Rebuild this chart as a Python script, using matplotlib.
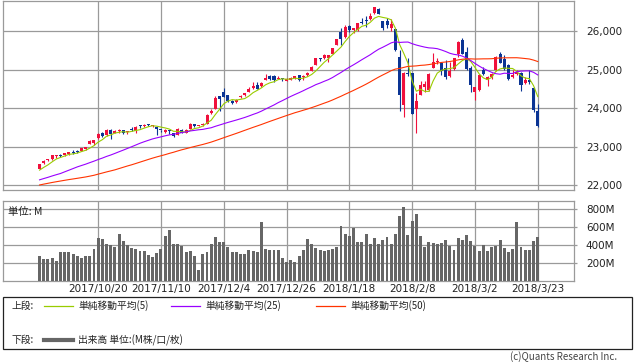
import numpy as np
import pandas as pd
import matplotlib
matplotlib.use("Agg")
import matplotlib.pyplot as plt
from matplotlib.lines import Line2D
from matplotlib.patches import Rectangle
from matplotlib.ticker import FuncFormatter

# ---- data (2017/10/2 - 2018/3/23, daily) ----
# closes before the first bar, only used for the moving averages
prior_closes = [
    21513, 21613, 21711, 21797, 21830, 21891,
    21964, 22016, 22026, 22093, 22118, 22085, 22049, 21844, 21858, 21994,
    21999, 22025, 21751, 21675, 21704, 21900, 21812, 21783, 21814, 21808,
    21865, 21892, 21948,
    21988, 21753, 21808, 21785, 21798, 22057, 22119, 22158, 22203, 22268,
    22331, 22371, 22413, 22359, 22350, 22296, 22284, 22341, 22381, 22405,
]

opens = [
    22423, 22566, 22646, 22681, 22758, 22777, 22786, 22822, 22867, 22887,
    22890, 22940, 23074, 23095, 23220, 23363, 23305, 23427, 23365, 23420,
    23426, 23372, 23456, 23415, 23564, 23532, 23585, 23549, 23516, 23434,
    23385, 23416, 23358, 23312, 23431, 23362, 23461, 23601, 23538, 23566,
    23581, 23867, 23980, 24305, 24424, 24335, 24184, 24150, 24283, 24339,
    24413, 24515, 24609, 24563, 24739, 24848, 24826, 24757, 24765, 24715,
    24735, 24796, 24849, 24809, 24850, 24964, 25114, 25308, 25312, 25311,
    25406, 25638, 25987, 25855, 26133, 26038, 26025, 26240, 26290, 26314,
    26466, 26583, 26250, 26268, 26083, 26061, 25337, 24085, 24900, 24902,
    23992, 24337, 24540, 24460, 25030, 25190, 25165, 25050, 24830, 25012,
    25400, 25770, 25470, 25030, 24420, 24470, 24990, 24740, 24800, 24990,
    25410, 25270, 25110, 24800, 24880, 24920, 24660, 24730, 24520, 23940,
]
highs = [
    22565, 22651, 22685, 22777, 22779, 22803, 22838, 22873, 22905, 22905,
    22958, 23002, 23182, 23167, 23367, 23388, 23471, 23455, 23432, 23450,
    23432, 23416, 23518, 23531, 23564, 23582, 23602, 23564, 23516, 23444,
    23459, 23443, 23358, 23487, 23450, 23454, 23605, 23601, 23573, 23625,
    23849, 23983, 24327, 24322, 24534, 24349, 24206, 24246, 24345, 24387,
    24552, 24671, 24668, 24690, 24876, 24850, 24850, 24847, 24785, 24778,
    24813, 24840, 24871, 24864, 24941, 25105, 25299, 25311, 25407, 25375,
    25574, 25803, 26086, 26153, 26153, 26072, 26215, 26338, 26392, 26458,
    26616, 26608, 26256, 26338, 26306, 26061, 25520, 24946, 25293, 24903,
    24382, 24698, 24705, 24924, 25420, 25300, 25190, 25255, 25200, 25310,
    25740, 25820, 25600, 25100, 24560, 24900, 25070, 24830, 24920, 25350,
    25450, 25370, 25140, 25000, 25000, 24940, 24810, 24985, 24540, 24100,
]
lows = [
    22416, 22555, 22618, 22660, 22713, 22736, 22752, 22797, 22821, 22850,
    22882, 22926, 23067, 23039, 23210, 23262, 23291, 23191, 23356, 23366,
    23331, 23343, 23413, 23357, 23481, 23520, 23526, 23508, 23300, 23381,
    23350, 23330, 23242, 23312, 23356, 23362, 23461, 23517, 23526, 23536,
    23578, 23841, 23980, 23921, 24288, 24159, 24111, 24141, 24270, 24307,
    24413, 24501, 24508, 24554, 24739, 24731, 24690, 24757, 24715, 24705,
    24732, 24751, 24717, 24741, 24825, 24963, 25112, 25235, 25271, 25200,
    25406, 25638, 25648, 25830, 25972, 25958, 26004, 26197, 26112, 26278,
    26435, 26435, 26032, 26082, 26014, 25490, 23923, 23778, 24848, 23849,
    23360, 24337, 24421, 24458, 25030, 25149, 24872, 24768, 24800, 24980,
    25330, 25407, 24999, 24430, 24200, 24440, 24850, 24570, 24760, 24960,
    25160, 24990, 24740, 24780, 24860, 24450, 24640, 24640, 23900, 23510,
]
closes = [
    22557, 22641, 22661, 22775, 22773, 22761, 22830, 22872, 22841, 22871,
    22956, 22997, 23157, 23163, 23328, 23273, 23441, 23329, 23400, 23434,
    23348, 23377, 23435, 23516, 23539, 23548, 23557, 23563, 23461, 23422,
    23439, 23409, 23271, 23458, 23358, 23430, 23590, 23526, 23557, 23580,
    23836, 23940, 24272, 24231, 24290, 24180, 24140, 24211, 24329, 24386,
    24504, 24585, 24508, 24651, 24792, 24754, 24726, 24782, 24754, 24746,
    24774, 24837, 24719, 24824, 24922, 25075, 25295, 25283, 25385, 25369,
    25574, 25803, 25792, 26115, 26017, 26071, 26214, 26210, 26252, 26392,
    26616, 26439, 26076, 26149, 26186, 25520, 24345, 24912, 24893, 23860,
    24190, 24601, 24640, 24893, 25200, 25219, 24964, 24797, 24962, 25309,
    25709, 25410, 25029, 24608, 24538, 24874, 24884, 24801, 24895, 25335,
    25178, 25007, 24758, 24873, 24946, 24610, 24727, 24682, 23957, 23533,
]
# volume, million shares
volumes = [
    282, 248, 248, 260, 226, 319, 326, 326, 304, 274,
    260, 282, 282, 356, 479, 468, 412, 404, 382, 527,
    449, 397, 367, 356, 330, 338, 293, 271, 312, 356,
    505, 572, 416, 416, 393, 326, 338, 282, 126, 304,
    326, 416, 490, 430, 438, 382, 326, 326, 304, 304,
    349, 338, 326, 653, 360, 349, 349, 349, 260, 215,
    234, 215, 282, 349, 471, 416, 371, 349, 338, 349,
    360, 382, 616, 527, 505, 594, 438, 438, 527, 416,
    483, 416, 460, 494, 416, 527, 728, 828, 516, 672,
    750, 505, 382, 438, 427, 416, 427, 460, 393, 349,
    483, 460, 516, 449, 393, 338, 404, 338, 382, 393,
    460, 371, 327, 360, 661, 382, 349, 349, 449, 494,
]
grid_idx = [14, 29, 44, 59, 74, 89, 104, 119]
grid_dates = ['2017/10/20', '2017/11/10', '2017/12/4', '2017/12/26',
              '2018/1/18', '2018/2/8', '2018/3/2', '2018/3/23']
price_ticks = [22000, 23000, 24000, 25000, 26000]
vol_ticks = [200, 400, 600, 800]

RED = '#f0103c'
BLUE = '#0a3494'
GRID = '#9a9a9a'
JP = ['Noto Sans CJK JP', 'DejaVu Sans']

W, H = 638, 362


def fx(x):
    return x / W


def fy(y):
    return 1 - y / H


n = len(closes)
xs = np.arange(n)
all_closes = pd.Series(prior_closes + closes, dtype=float)
ma = {k: all_closes.rolling(k).mean().iloc[-n:].values for k in (5, 25, 50)}

fig = plt.figure(figsize=(W / 100, H / 100), dpi=100)
fig.patch.set_facecolor('white')

ax = fig.add_axes([fx(3), fy(190), fx(571), 189.5 / H])
axv = fig.add_axes([fx(3), fy(281), fx(571), 80 / H])

for a in (ax, axv):
    a.set_xlim(-8.73, 127.66)
    for s in a.spines.values():
        s.set_color(GRID)
        s.set_linewidth(0.9)
    a.set_xticks(grid_idx)
    a.grid(True, axis='both', color=GRID, linewidth=0.9)
    a.set_axisbelow(True)
    a.yaxis.tick_right()
    a.tick_params(axis='y', direction='out', length=2.5, width=0.9, color=GRID,
                  pad=6, labelsize=7.5, labelcolor='#222222')
    a.tick_params(axis='x', length=0)

# candles
for i in xs:
    o, h, l, c = opens[i], highs[i], lows[i], closes[i]
    col = RED if c >= o else BLUE
    ax.vlines(i, l, h, color=col, linewidth=0.8, zorder=3)
    body = max(abs(c - o), 26)
    ax.bar(i, body, bottom=min(o, c), width=0.72, color=col, linewidth=0, zorder=4)

ax.plot(xs, ma[5], color='#99cc00', linewidth=0.8, zorder=5)
ax.plot(xs, ma[25], color='#9900ff', linewidth=0.8, zorder=5)
ax.plot(xs, ma[50], color='#ff3300', linewidth=0.8, zorder=5)

ax.set_ylim(21878, 26794)
ax.set_yticks(price_ticks)
ax.yaxis.set_major_formatter(FuncFormatter(lambda v, p: f'{v:,.0f}'))
ax.set_xticklabels([])

# volume
axv.bar(xs, volumes, width=0.7, color='#666666', linewidth=0, zorder=3)
axv.set_ylim(0, 890)
axv.set_yticks(vol_ticks)
axv.set_yticklabels([f'{v}M' for v in vol_ticks])
axv.set_xticklabels(grid_dates, fontsize=7.5, color='#222222')
axv.tick_params(axis='x', pad=2)
axv.text(0.008, 0.93, '単位: M', transform=axv.transAxes, fontsize=7.5,
         family=JP, va='top', ha='left', color='#222222')

# legend box
fig.add_artist(Rectangle((fx(3), fy(349)), fx(629), 52 / H, transform=fig.transFigure,
                         fill=False, edgecolor='#222222', linewidth=0.9))
row1, row2 = 306, 340
fig.text(fx(11), fy(row1), '上段:', fontsize=7, family=JP, va='center', color='#222222')
fig.text(fx(11), fy(row2), '下段:', fontsize=7, family=JP, va='center', color='#222222')
for x0, col, label in [(44, '#99cc00', '単純移動平均(5)'),
                       (171, '#9900ff', '単純移動平均(25)'),
                       (316, '#ff3300', '単純移動平均(50)')]:
    fig.add_artist(Line2D([fx(x0), fx(x0 + 29)], [fy(row1), fy(row1)],
                          transform=fig.transFigure, color=col, linewidth=0.9))
    fig.text(fx(x0 + 34), fy(row1), label, fontsize=7, family=JP, va='center',
             color='#222222')
fig.add_artist(Line2D([fx(44), fx(73)], [fy(row2), fy(row2)], transform=fig.transFigure,
                      color='#666666', linewidth=3))
fig.text(fx(78), fy(row2), '出来高 単位:(M株/口/枚)', fontsize=7, family=JP,
         va='center', color='#222222')

fig.text(fx(617), fy(357), '(c)Quants Research Inc.', fontsize=7, family=JP,
         ha='right', va='center', color='#444444')

fig.savefig('out.png', dpi=100, facecolor='white')
